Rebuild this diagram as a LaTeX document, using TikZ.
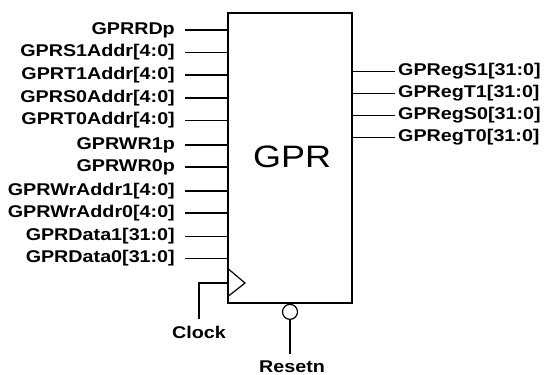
\documentclass[tikz,border=0pt]{standalone}
\usepackage{fontspec}
\setmainfont{Liberation Sans}[FakeStretch=1.16]
\usepackage{tikz}
\usetikzlibrary{positioning, calc}

\tikzset{
  pin/.style={font=\bfseries\fontsize{17}{19}\selectfont, inner sep=0pt},
  wire/.style={line width=1.2pt},
}

\begin{document}
\begin{tikzpicture}[x=1pt, y=-1pt]
  \useasboundingbox (0,0) rectangle (547,375);

  % Register file block
  \node[draw, line width=1.5pt, minimum width=124pt, minimum height=290pt,
        inner sep=0pt] (gpr) at (290,158) {};
  \node[font=\fontsize{31}{33}\selectfont, inner sep=0pt] (gprlab) at (292,157) {GPR};

  % Inputs (left side)
  \foreach \i/\y/\lab in {1/30/GPRRDp, 2/52.5/GPRS1Addr[4:0], 3/75/GPRT1Addr[4:0],
      4/98/GPRS0Addr[4:0], 5/120.5/GPRT0Addr[4:0], 6/145/GPRWR1p, 7/167/GPRWR0p,
      8/191/GPRWrAddr1[4:0], 9/213/GPRWrAddr0[4:0], 10/236.5/GPRData1[31:0],
      11/258.5/GPRData0[31:0]} {
    \node[pin, anchor=east] (in\i) at (175,\y) {\lab};
    \draw[wire] ($(in\i.east)+(10,0)$) -- (in\i.east -| gpr.west);
  }

  % Outputs (right side)
  \foreach \i/\y/\lab in {1/71.5/GPRegS1[31:0], 2/93.5/GPRegT1[31:0],
      3/115.5/GPRegS0[31:0], 4/137.5/GPRegT0[31:0]} {
    \node[pin, anchor=west] (out\i) at (398,\y) {\lab};
    \draw[wire] (out\i.west -| gpr.east) -- ($(out\i.west)+(-3,0)$);
  }

  % Clock input
  \draw[wire] (gpr.west |- 0,268) -- (245,283) -- (gpr.west |- 0,297);
  \node[pin] (clk) at (199,332) {Clock};
  \coordinate (clkbend) at (199,283);
  \draw[wire] (gpr.west |- clkbend) -- (clkbend) -- ($(clk.north)+(0,-7)$);

  % Reset (active low)
  \node[draw, circle, wire, minimum size=15pt, inner sep=0pt, below=0pt of gpr.south] (rstbub) {};
  \node[pin] (rst) at (292,367) {Resetn};
  \draw[wire] (rstbub.south) -- ($(rst.north)+(-2,-7)$);

\end{tikzpicture}
\end{document}
